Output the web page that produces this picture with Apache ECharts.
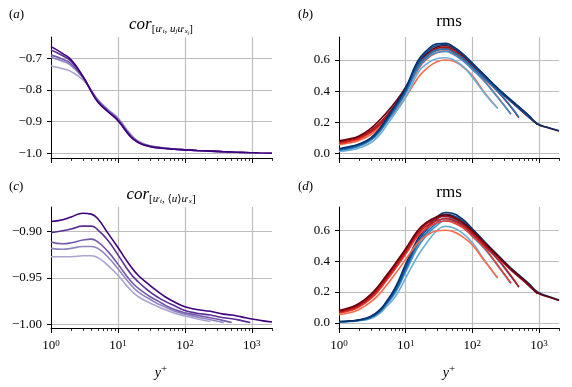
<!DOCTYPE html>
<html lang="en">
<head>
<meta charset="UTF-8" />
<title>cor / rms</title>
<script src="https://cdn.jsdelivr.net/npm/echarts@6/dist/echarts.min.js"></script>
<style>
  html, body { margin: 0; padding: 0; background: #fff; }
  #main { width: 572px; height: 387px; }
</style>
</head>
<body>
<div id="main"></div>
<script>
// y+ sample points shared by every curve (each curve stops at its own end)
const yPlus = [1, 1.5, 2, 3, 4, 5, 7, 10, 15, 20, 30, 40, 50, 70, 100, 150, 240, 380, 500, 700, 950, 1400, 2000];
const majorTicks = [1, 10, 100, 1000];
const minorTicks = [2, 3, 4, 5, 6, 7, 8, 9, 20, 30, 40, 50, 60, 70, 80, 90,
                    200, 300, 400, 500, 600, 700, 800, 900, 2000];

// curve order in every panel: Re 240, 380, 500, 950, 2000
// (a) cor[u't, uj u'xj]
const corA = [
  [-0.724,-0.733,-0.742,-0.768,-0.802,-0.830,-0.860,-0.888,-0.936,-0.961,-0.976,-0.980,-0.983,-0.986,-0.989,-0.991,-0.994],
  [-0.697,-0.709,-0.723,-0.762,-0.802,-0.832,-0.862,-0.891,-0.939,-0.963,-0.977,-0.981,-0.984,-0.987,-0.989,-0.991,-0.993,-0.995],
  [-0.690,-0.703,-0.718,-0.760,-0.803,-0.834,-0.864,-0.893,-0.941,-0.964,-0.977,-0.981,-0.984,-0.987,-0.989,-0.991,-0.993,-0.995,-0.996],
  [-0.674,-0.692,-0.710,-0.758,-0.804,-0.836,-0.866,-0.895,-0.943,-0.965,-0.978,-0.982,-0.984,-0.987,-0.989,-0.991,-0.993,-0.995,-0.996,-0.997,-0.998],
  [-0.663,-0.685,-0.705,-0.757,-0.805,-0.838,-0.868,-0.897,-0.945,-0.966,-0.979,-0.983,-0.985,-0.987,-0.989,-0.991,-0.993,-0.995,-0.996,-0.997,-0.998,-0.999,-0.9995]
];
// (c) cor[u't, <u> u'x]
const corC = [
  [-0.927,-0.927,-0.927,-0.926,-0.926,-0.928,-0.936,-0.947,-0.962,-0.970,-0.977,-0.981,-0.984,-0.988,-0.991,-0.994,-0.997],
  [-0.918,-0.919,-0.918,-0.916,-0.916,-0.918,-0.927,-0.940,-0.956,-0.965,-0.973,-0.978,-0.981,-0.986,-0.989,-0.992,-0.995,-0.998],
  [-0.911,-0.913,-0.912,-0.909,-0.908,-0.911,-0.921,-0.935,-0.952,-0.961,-0.970,-0.975,-0.979,-0.984,-0.9875,-0.990,-0.993,-0.996,-0.998],
  [-0.901,-0.899,-0.897,-0.894,-0.894,-0.898,-0.909,-0.925,-0.944,-0.954,-0.965,-0.971,-0.975,-0.980,-0.985,-0.988,-0.990,-0.993,-0.994,-0.996,-0.998],
  [-0.889,-0.887,-0.884,-0.880,-0.881,-0.886,-0.901,-0.917,-0.936,-0.947,-0.958,-0.965,-0.970,-0.976,-0.981,-0.984,-0.986,-0.989,-0.990,-0.992,-0.994,-0.996,-0.9975]
];
// (b) rms
const rmsRedB = [
  [0.055,0.068,0.082,0.120,0.160,0.200,0.270,0.360,0.480,0.540,0.590,0.600,0.595,0.560,0.500,0.395,0.290],
  [0.062,0.077,0.092,0.132,0.174,0.218,0.296,0.395,0.532,0.600,0.648,0.657,0.645,0.605,0.543,0.468,0.362,0.251],
  [0.068,0.083,0.098,0.139,0.182,0.226,0.305,0.405,0.545,0.615,0.665,0.672,0.660,0.618,0.555,0.484,0.398,0.298,0.229],
  [0.075,0.090,0.106,0.148,0.192,0.236,0.315,0.415,0.555,0.625,0.675,0.683,0.670,0.628,0.566,0.494,0.410,0.332,0.288,0.232,0.186],
  [0.080,0.095,0.112,0.160,0.210,0.255,0.330,0.425,0.565,0.635,0.685,0.693,0.680,0.635,0.572,0.500,0.415,0.340,0.296,0.242,0.188,0.163,0.143]
];
const rmsBlueB = [
  [0.012,0.022,0.034,0.068,0.115,0.170,0.260,0.360,0.510,0.570,0.610,0.615,0.605,0.565,0.490,0.390,0.289],
  [0.020,0.032,0.046,0.083,0.133,0.190,0.282,0.385,0.540,0.605,0.650,0.655,0.640,0.600,0.540,0.465,0.360,0.253],
  [0.022,0.035,0.050,0.088,0.140,0.197,0.290,0.395,0.555,0.620,0.665,0.670,0.655,0.615,0.555,0.485,0.400,0.300,0.231],
  [0.027,0.041,0.056,0.095,0.148,0.207,0.302,0.410,0.580,0.645,0.695,0.700,0.685,0.640,0.575,0.500,0.413,0.335,0.290,0.235,0.188],
  [0.030,0.045,0.060,0.100,0.155,0.215,0.310,0.420,0.590,0.655,0.705,0.708,0.690,0.645,0.580,0.506,0.420,0.344,0.300,0.245,0.190,0.165,0.145]
];
// (d) rms
const rmsRedD = [
  [0.052,0.067,0.086,0.135,0.185,0.235,0.318,0.410,0.515,0.562,0.597,0.600,0.593,0.560,0.505,0.405,0.292],
  [0.062,0.080,0.102,0.156,0.212,0.266,0.350,0.445,0.558,0.610,0.650,0.660,0.652,0.620,0.563,0.490,0.375,0.257],
  [0.068,0.087,0.110,0.166,0.223,0.278,0.362,0.457,0.572,0.625,0.665,0.675,0.667,0.635,0.578,0.505,0.415,0.305,0.232],
  [0.075,0.094,0.118,0.176,0.235,0.290,0.375,0.470,0.585,0.638,0.680,0.690,0.682,0.648,0.590,0.515,0.428,0.342,0.297,0.242,0.188],
  [0.080,0.100,0.125,0.185,0.245,0.300,0.385,0.480,0.595,0.648,0.690,0.700,0.690,0.655,0.598,0.522,0.435,0.350,0.305,0.250,0.195,0.167,0.145]
];
const rmsBlueD = [
  [0.005,0.008,0.013,0.028,0.058,0.100,0.170,0.290,0.430,0.510,0.600,0.625,0.618,0.585,0.520,0.410,0.288],
  [0.006,0.010,0.015,0.033,0.066,0.112,0.195,0.330,0.485,0.560,0.635,0.663,0.658,0.625,0.560,0.483,0.370,0.255],
  [0.006,0.010,0.016,0.035,0.070,0.117,0.205,0.345,0.505,0.578,0.652,0.678,0.672,0.640,0.575,0.500,0.410,0.300,0.231],
  [0.007,0.011,0.017,0.038,0.075,0.123,0.215,0.360,0.522,0.595,0.675,0.703,0.698,0.665,0.600,0.522,0.432,0.345,0.300,0.243,0.188],
  [0.008,0.012,0.019,0.042,0.080,0.130,0.230,0.380,0.540,0.610,0.690,0.715,0.710,0.675,0.610,0.530,0.440,0.355,0.310,0.255,0.200,0.170,0.147]
];

const yTicksCorA = [-1.0, -0.9, -0.8, -0.7];
const yTicksCorC = [-1.0, -0.95, -0.9];
const yTicksRms = [0, 0.2, 0.4, 0.6];

const purples = ['#a9a4d1', '#8f84c0', '#7459ab', '#5a2f96', '#3f007d'];
const reds = ['#fb6a4a', '#ef3b2c', '#cb181d', '#a50f15', '#67000d'];
const blues = ['#6baed6', '#4292c6', '#2171b5', '#08519c', '#08306b'];

const FONT = "'Liberation Serif', 'DejaVu Serif', serif";
const gridColor = '#bdbdbd';

const grids = [
  { left: 51, top: 37, width: 221, height: 121 },
  { left: 339, top: 37, width: 220, height: 121 },
  { left: 51, top: 207, width: 221, height: 121 },
  { left: 339, top: 207, width: 220, height: 121 }
];

function xAxes(gi, showLabels) {
  return [{
    type: 'log', logBase: 10, gridIndex: gi, min: 1, max: 2000, position: 'bottom',
    axisLine: { show: true, onZero: false, lineStyle: { color: '#000', width: 1 } },
    axisTick: { show: true, length: 5, customValues: majorTicks, lineStyle: { color: '#000', width: 1 } },
    axisLabel: {
      show: showLabels, customValues: majorTicks, margin: 11, color: '#000',
      formatter: v => '{b|10}{sup|' + Math.round(Math.log10(v)) + '}',
      rich: {
        b: { fontFamily: FONT, fontSize: 13, lineHeight: 13, padding: [4, 0, 0, 0], verticalAlign: 'bottom', color: '#000' },
        sup: { fontFamily: FONT, fontSize: 9, lineHeight: 9, verticalAlign: 'top', color: '#000' }
      }
    },
    splitLine: { show: true, lineStyle: { color: gridColor, width: 1.2 } }
  }, {
    type: 'log', logBase: 10, gridIndex: gi, min: 1, max: 2000, position: 'bottom',
    axisLine: { show: false, onZero: false },
    axisTick: { show: true, length: 3, customValues: minorTicks, lineStyle: { color: '#000', width: 0.8 } },
    axisLabel: { show: false },
    splitLine: { show: false }
  }];
}

function yAxis(gi, min, max, ticks, dec) {
  return {
    type: 'value', gridIndex: gi, min: min, max: max,
    axisLine: { show: true, onZero: false, lineStyle: { color: '#000', width: 1 } },
    axisTick: { show: true, length: 4, customValues: ticks, lineStyle: { color: '#000', width: 1 } },
    axisLabel: {
      customValues: ticks, margin: 9, color: '#000', fontFamily: FONT, fontSize: 13,
      formatter: v => (v < 0 ? '\u2212' : '') + Math.abs(v).toFixed(dec)
    },
    splitLine: { show: true, lineStyle: { color: gridColor, width: 1.2 } }
  };
}

function lines(vals, colors, gi) {
  return vals.map((v, k) => ({
    type: 'line', xAxisIndex: gi * 2, yAxisIndex: gi,
    data: v.map((y, j) => [yPlus[j], y]),
    showSymbol: false, symbol: 'none', smooth: 0.5, silent: true,
    lineStyle: { color: colors[k], width: 1.6 }, itemStyle: { color: colors[k] }
  }));
}

const titleRich = {
  c: { fontFamily: FONT, fontSize: 17, fontStyle: 'italic', lineHeight: 20, verticalAlign: 'middle', fill: '#000' },
  s: { fontFamily: FONT, fontSize: 11, lineHeight: 17, verticalAlign: 'bottom', fill: '#000' },
  si: { fontFamily: FONT, fontSize: 11, fontStyle: 'italic', lineHeight: 17, verticalAlign: 'bottom', fill: '#000' },
  sp: { fontFamily: FONT, fontSize: 8, lineHeight: 14, verticalAlign: 'bottom', fill: '#000' },
  ss: { fontFamily: FONT, fontSize: 7, fontStyle: 'italic', lineHeight: 12, verticalAlign: 'bottom', fill: '#000' },
  sss: { fontFamily: FONT, fontSize: 5, fontStyle: 'italic', lineHeight: 9, verticalAlign: 'bottom', fill: '#000' }
};
const labelRich = {
  p: { fontFamily: FONT, fontSize: 13, fill: '#000' },
  i: { fontFamily: FONT, fontSize: 13, fontStyle: 'italic', fill: '#000' }
};
const yPlusRich = {
  i: { fontFamily: FONT, fontSize: 14, fontStyle: 'italic', lineHeight: 16, verticalAlign: 'bottom', fill: '#000' },
  sup: { fontFamily: FONT, fontSize: 11, lineHeight: 10, verticalAlign: 'top', fill: '#000' }
};

function txt(x, y, text, rich, align, size) {
  return { type: 'text', x: x, y: y, silent: true,
    style: { text: text, rich: rich, align: align || 'center', verticalAlign: 'middle', fill: '#000',
             font: (size || 13) + 'px ' + FONT } };
}

const chart = echarts.init(document.getElementById('main'), null, { renderer: 'canvas' });
chart.setOption({
  backgroundColor: '#fff',
  animation: false,
  grid: grids,
  xAxis: [].concat(xAxes(0, false), xAxes(1, false), xAxes(2, true), xAxes(3, true)),
  yAxis: [
    yAxis(0, -1.0148, -0.6327, yTicksCorA, 1),
    yAxis(1, -0.030, 0.748, yTicksRms, 1),
    yAxis(2, -1.004, -0.8733, yTicksCorC, 2),
    yAxis(3, -0.034, 0.751, yTicksRms, 1)
  ],
  series: [].concat(
    lines(corA, purples, 0),
    lines(rmsRedB, reds, 1),
    lines(rmsBlueB, blues, 1),
    lines(corC, purples, 2),
    lines(rmsBlueD, blues, 3),
    lines(rmsRedD, reds, 3)
  ),
  graphic: [
    txt(9, 15, '{p|(}{i|a}{p|)}', labelRich, 'left'),
    txt(298, 15, '{p|(}{i|b}{p|)}', labelRich, 'left'),
    txt(9, 187, '{p|(}{i|c}{p|)}', labelRich, 'left'),
    txt(298, 187, '{p|(}{i|d}{p|)}', labelRich, 'left'),
    txt(161, 25, '{c|cor}{s|[}{si|u}{sp|\u2032}{ss|t}{s|, }{si|u}{ss|j}{si|u}{sp|\u2032}{ss|x}{sss|j}{s|]}', titleRich),
    txt(449, 22, 'rms', null, 'center', 17),
    txt(161, 195, '{c|cor}{s|[}{si|u}{sp|\u2032}{ss|t}{s|, \u27E8}{si|u}{s|\u27E9}{si|u}{sp|\u2032}{ss|x}{s|]}', titleRich),
    txt(449, 193, 'rms', null, 'center', 17),
    txt(161, 372, '{i|y}{sup|+}', yPlusRich),
    txt(449, 372, '{i|y}{sup|+}', yPlusRich)
  ]
});
</script>
</body>
</html>
